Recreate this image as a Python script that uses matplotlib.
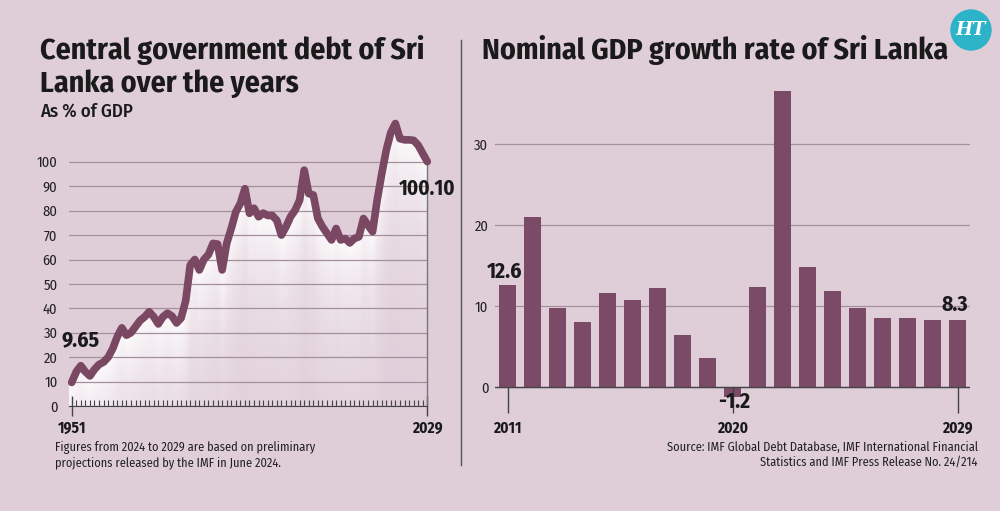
import numpy as np
import matplotlib.pyplot as plt
from matplotlib.patches import Ellipse

# Central government debt, % of GDP (1951-2029)
debt_years = np.arange(1951, 2030)
debt = [9.65, 14, 16.5, 14, 12.3, 15, 17, 18, 20, 23.5,
        28.4, 32, 29, 30, 32.5, 35, 36.5, 38.6, 36.5, 33.6,
        36.5, 38, 36.8, 34, 36, 43, 57.7, 60, 55.7, 60,
        62, 66.6, 66.3, 55.7, 66.6, 72.7, 79.5, 83, 89, 78.9,
        81, 77.5, 79, 78, 78, 76, 70, 73.4, 77.5, 80.2,
        84.3, 96.6, 87, 86.4, 76.8, 73.4, 70.7, 68, 72.7, 68,
        68.6, 66.8, 68.6, 69.3, 76.8, 74, 71.4, 84.3, 95, 104.8,
        112, 115.7, 109.5, 109, 109, 108.8, 106.8, 103.4, 100.1]

# Nominal GDP growth rate, % (2011-2029)
gdp_years = np.arange(2011, 2030)
gdp_growth = [12.6, 21.0, 9.8, 8.0, 11.6, 10.8, 12.3, 6.5, 3.6, -1.2,
              12.4, 36.6, 14.8, 11.9, 9.8, 8.5, 8.5, 8.3, 8.3]

BG = "#dfcdd8"
PLUM = "#7a4862"
GRID = "#a3909c"
INK = "#1a1a1a"
NARROW = ["Fira Sans Condensed", "Roboto Condensed",
          "IBM Plex Sans Condensed", "DejaVu Sans"]
plt.rcParams["font.family"] = NARROW

W, H = 1000, 511
fig = plt.figure(figsize=(W / 100, H / 100), dpi=100, facecolor=BG)


def px(x0, y0, x1, y1):
    """ pixel box (top-left origin) -> figure fraction rect """
    return [x0 / W, 1 - y1 / H, (x1 - x0) / W, (y1 - y0) / H]


# ---------------- left chart ----------------
ax1 = fig.add_axes(px(68.5, 113, 427.3, 406))
ax1.set_facecolor("none")
ax1.set_xlim(1950.3, 2029)
ax1.set_ylim(0, 120)

# white glow under the line
gx = np.linspace(1950.3, 2029, 600)
gy = np.linspace(0, 120, 400)
line_at = np.interp(gx, debt_years, debt)
depth = line_at[None, :] - gy[:, None]
alpha = np.where(depth > 0, 0.92 * np.exp(-depth / 36.0), 0)
img = np.ones((gy.size, gx.size, 4))
img[..., 3] = alpha
ax1.imshow(img, extent=(1950.3, 2029, 0, 120), origin="lower",
           aspect="auto", zorder=1, interpolation="bilinear")

ax1.set_yticks(range(0, 101, 10))
ax1.yaxis.grid(True, color=GRID, lw=0.9, zorder=0)
ax1.tick_params(axis="y", length=0, pad=8, labelsize=10.5, labelcolor="#222")

ax1.set_xticks([1951, 2029])
ax1.set_xticklabels(["1951", "2029"], fontsize=11, fontweight="bold")
ax1.set_xticks(debt_years, minor=True)
ax1.tick_params(axis="x", which="minor", direction="in", length=4,
                width=0.8, color="#444")
ax1.tick_params(axis="x", which="major", direction="inout", length=14,
                width=1, color="#444", pad=3, labelcolor=INK)
for s in ["top", "right", "left"]:
    ax1.spines[s].set_visible(False)
ax1.spines["bottom"].set_color("#444")
ax1.vlines(debt_years[-1], 0, debt[-1], color="#777", lw=1, zorder=2,
           clip_on=False)

ax1.plot(debt_years, debt, color=PLUM, lw=5.5, solid_capstyle="round",
         solid_joinstyle="round", zorder=3, clip_on=False)

ax1.annotate("9.65", xy=(debt_years[0], debt[0]), xytext=(9, 42),
             textcoords="offset pixels", ha="center", va="center",
             fontsize=15.5, fontweight="bold", color=INK)
ax1.annotate("100.10", xy=(debt_years[-1], debt[-1]), xytext=(0, -27),
             textcoords="offset pixels", ha="center", va="center",
             fontsize=15, fontweight="bold", color=INK)

# ---------------- right chart ----------------
ax2 = fig.add_axes(px(495.2, 79.5, 970.2, 411.6))
ax2.set_facecolor("none")
ax2.set_xlim(2010.5, 2029.5)
ax2.set_ylim(-3, 38)
ax2.bar(gdp_years, gdp_growth, width=0.7, color="#7b4a66", zorder=2)
ax2.axhline(0, color="#444", lw=1, zorder=3)
ax2.set_yticks([0, 10, 20, 30])
ax2.yaxis.grid(True, color=GRID, lw=0.9, zorder=0)
ax2.tick_params(axis="y", length=0, pad=5, labelsize=10.5, labelcolor="#222")
for s in ax2.spines.values():
    s.set_visible(False)
ax2.set_xticks([])
for yr in [2011, 2020, 2029]:
    ax2.vlines(yr, -3.2, 0, color="#444", lw=1, zorder=3, clip_on=False)
    ax2.annotate(str(yr), xy=(yr, -3), xytext=(0, -17),
                 textcoords="offset pixels", ha="center", va="center",
                 fontsize=11, fontweight="bold", color=INK)

ax2.annotate("12.6", xy=(gdp_years[0], gdp_growth[0]), xytext=(-3, 13),
             textcoords="offset pixels", ha="center", va="center",
             fontsize=15.5, fontweight="bold", color=INK)
ax2.annotate("8.3", xy=(gdp_years[-1], gdp_growth[-1]), xytext=(-3, 15),
             textcoords="offset pixels", ha="center", va="center",
             fontsize=15.5, fontweight="bold", color=INK)
ax2.annotate("-1.2", xy=(gdp_years[9], gdp_growth[9]), xytext=(1, -5),
             textcoords="offset pixels", ha="center", va="center",
             fontsize=15.5, fontweight="bold", color=INK, zorder=5)

# ---------------- texts ----------------
fig.text(40 / W, 1 - 35 / H, "Central government debt of Sri\nLanka over the years",
         ha="left", va="top", fontsize=21.5, fontweight="bold",
         linespacing=1.2, color=INK)
fig.text(40 / W, 1 - 103 / H, "As % of GDP", ha="left", va="top",
         fontsize=13.5, fontweight="medium", color=INK)
fig.text(482 / W, 1 - 35 / H, "Nominal GDP growth rate of Sri Lanka",
         ha="left", va="top", fontsize=21.5, fontweight="bold", color=INK)
fig.text(55 / W, 1 - 441 / H,
         "Figures from 2024 to 2029 are based on preliminary\n"
         "projections released by the IMF in June 2024.",
         ha="left", va="top", fontsize=8.9, color="#222", linespacing=1.25)
fig.text(978 / W, 1 - 441 / H,
         "Source: IMF Global Debt Database, IMF International Financial\n"
         "Statistics and IMF Press Release No. 24/214",
         ha="right", va="top", fontsize=8.9, color="#222",
         linespacing=1.25, multialignment="right")

# separator
fig.add_artist(plt.Line2D([461 / W, 461 / W], [1 - 40 / H, 1 - 465 / H],
                          color="#555", lw=1))

# logo
fig.add_artist(Ellipse((971 / W, 1 - 30 / H), 40 / W, 40 / H,
                       color="#2db3c8", transform=fig.transFigure))
fig.text(971 / W, 1 - 30 / H, "HT", ha="center", va="center", color="white",
         fontsize=13, fontweight="bold", style="italic", family="DejaVu Serif")

fig.savefig("out.png", dpi=100, facecolor=BG)
